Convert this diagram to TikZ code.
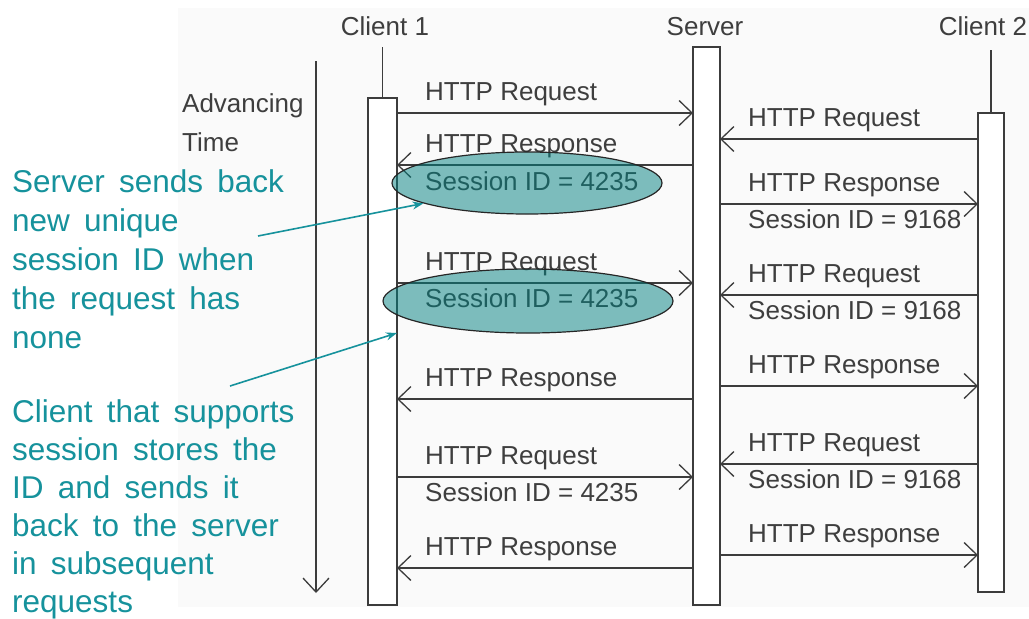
\documentclass[tikz,border=0pt]{standalone}
\usepackage{fontspec}
\setmainfont{Liberation Sans}
\usetikzlibrary{arrows.meta,shapes.geometric}
\definecolor{linec}{RGB}{60,60,60}
\definecolor{txtc}{RGB}{62,62,62}
\definecolor{tealtxt}{RGB}{22,146,156}
\definecolor{ellfill}{RGB}{0,128,128}
\definecolor{bgc}{RGB}{250,250,250}
\newcommand{\wsp}{\spaceskip=0.45em\relax}
\begin{document}
\begin{tikzpicture}[x=1pt,y=-1pt,
 lbl/.style={font=\fontsize{26}{31}\selectfont, text=txtc, inner sep=0, anchor=base west},
 head/.style={font=\fontsize{26}{31}\selectfont, text=txtc, inner sep=0, anchor=base},
 bar/.style={draw=linec, line width=1.3, fill=white, rectangle, inner sep=0, outer sep=0},
 life/.style={draw=linec, line width=1.3},
 msg/.style={draw=linec, line width=1.3, -{Straight Barb[length=13,width=25]}},
 sess/.style={ellipse, draw=black!85, line width=1.2, fill=ellfill, fill opacity=0.5, inner sep=0},
 note/.style={font=\fontsize{31.5}{39}\selectfont\wsp, text=tealtxt, inner sep=0, anchor=base west},
 pointer/.style={draw=tealtxt, line width=1.6, -{Stealth[length=11,width=8]}},
 timearrow/.style={draw=linec, line width=1.3, -{Straight Barb[length=14,width=26]}},
]
\useasboundingbox (0,0) rectangle (1029,619);
\fill[bgc] (178,8) rectangle (1029,607);

% headers
\node[head] (h1) at (385,35) {Client 1};
\node[head] (h2) at (705,35) {Server};
\node[head] (h3) at (983,35) {Client 2};

% time axis
\node[lbl] (adv) at (182,112) {Advancing};
\node[lbl] (tim) at (182,151) {Time};
\coordinate (t0) at (316,61);
\coordinate (t1) at (316,593);
\draw[timearrow] (t0) -- (t1);

% bars
\node[bar, minimum width=29, minimum height=507] (c1) at (382.5,351.5) {};
\node[bar, minimum width=27, minimum height=558] (srv) at (706.5,326) {};
\node[bar, minimum width=26, minimum height=479] (c2) at (991,352.5) {};
\coordinate (c1top) at (c1.north |- 0,47);
\coordinate (c2top) at (c2.north |- 0,50);
\draw[life] (c1top) -- (c1.north);
\draw[life] (c2top) -- (c2.north);

% client 1 <-> server
\draw[msg] (c1.east |- 0,113) -- (srv.west |- 0,113);
\node[lbl] (m1) at (425,100) {HTTP Request};
\draw[msg] (srv.west |- 0,165) -- (c1.east |- 0,165);
\node[lbl] (m2) at (425,152) {HTTP Response};
\node[lbl] (m2s) at (425,190) {Session ID = 4235};
\draw[msg] (c1.east |- 0,283) -- (srv.west |- 0,283);
\node[lbl] (m3) at (425,270) {HTTP Request};
\node[lbl] (m3s) at (425,307) {Session ID = 4235};
\draw[msg] (srv.west |- 0,399) -- (c1.east |- 0,399);
\node[lbl] (m4) at (425,386) {HTTP Response};
\draw[msg] (c1.east |- 0,477) -- (srv.west |- 0,477);
\node[lbl] (m5) at (425,464) {HTTP Request};
\node[lbl] (m5s) at (425,501) {Session ID = 4235};
\draw[msg] (srv.west |- 0,568) -- (c1.east |- 0,568);
\node[lbl] (m6) at (425,555) {HTTP Response};

% client 2 <-> server
\draw[msg] (c2.west |- 0,139) -- (srv.east |- 0,139);
\node[lbl] (n1) at (748,126) {HTTP Request};
\draw[msg] (srv.east |- 0,204) -- (c2.west |- 0,204);
\node[lbl] (n2) at (748,191) {HTTP Response};
\node[lbl] (n2s) at (748,228) {Session ID = 9168};
\draw[msg] (c2.west |- 0,295) -- (srv.east |- 0,295);
\node[lbl] (n3) at (748,282) {HTTP Request};
\node[lbl] (n3s) at (748,319) {Session ID = 9168};
\draw[msg] (srv.east |- 0,386) -- (c2.west |- 0,386);
\node[lbl] (n4) at (748,373) {HTTP Response};
\draw[msg] (c2.west |- 0,464) -- (srv.east |- 0,464);
\node[lbl] (n5) at (748,451) {HTTP Request};
\node[lbl] (n5s) at (748,488) {Session ID = 9168};
\draw[msg] (srv.east |- 0,555) -- (c2.west |- 0,555);
\node[lbl] (n6) at (748,542) {HTTP Response};

% session ellipses
\node[sess, minimum width=270, minimum height=62] (e1) at (527,183) {};
\node[sess, minimum width=290, minimum height=64] (e2) at (528,301) {};

% notes
\foreach \t [count=\i from 0] in {Server sends back,new unique,session ID when,the request has,none}
  \node[note] (na\i) at (12,{192+39*\i}) {\t};
\foreach \t [count=\i from 0] in {Client that supports,session stores the,ID and sends it,back to the server,in subsequent,requests}
  \node[note] (nb\i) at (12,{422+38*\i}) {\t};

\coordinate (pa) at (258,236);
\coordinate (pb) at (230,386);
\coordinate (pbt) at (c1.east |- 0,333);
\draw[pointer] (pa) -- (e1);
\draw[pointer] (pb) -- (pbt);
\end{tikzpicture}
\end{document}
